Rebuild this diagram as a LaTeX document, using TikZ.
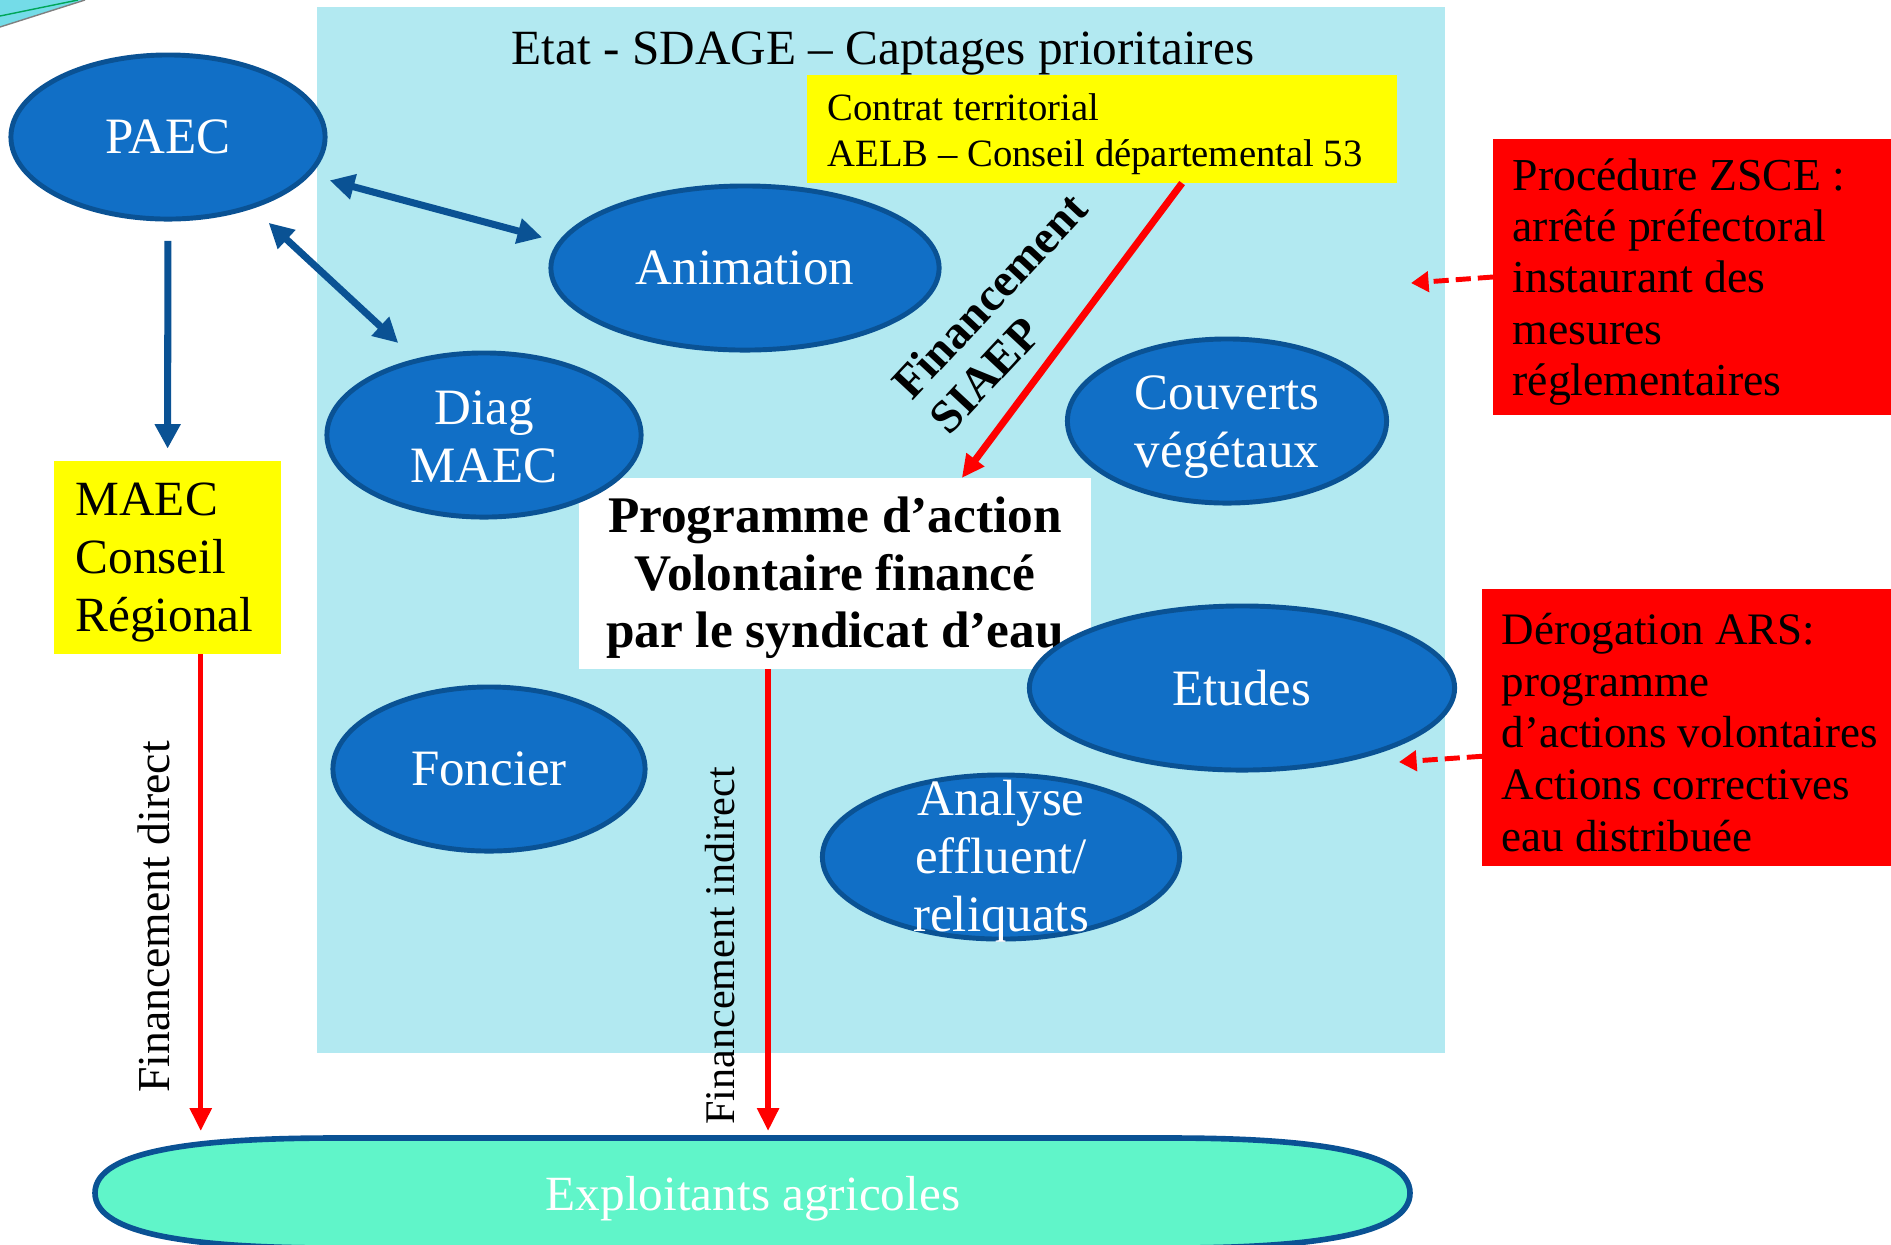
\documentclass[tikz,border=0pt]{standalone}
\usepackage{fontspec}
\setmainfont{Liberation Serif}
\usetikzlibrary{shapes.geometric,arrows.meta}
\definecolor{ciel}{HTML}{B2E9F1}
\definecolor{deco}{HTML}{74DCE8}
\definecolor{bleubulle}{HTML}{116FC6}
\definecolor{bleubord}{HTML}{0A5294}
\definecolor{menthe}{HTML}{60F5C9}
\definecolor{jaune}{HTML}{FFFF00}
\definecolor{rouge}{HTML}{FF0000}
\begin{document}
\begin{tikzpicture}[x=0.01cm,y=-0.01cm,
    bulle/.style={ellipse,draw=bleubord,line width=1.4pt,fill=bleubulle,minimum height=1.64cm,inner sep=0pt},
    bulletexte/.style={text=white,align=center,font=\fontsize{14.5}{16.5}\selectfont},
    boite/.style={inner sep=0pt,outer sep=0pt},
    texte boite/.style={anchor=west,align=left,inner sep=0pt},
    double fleche/.style={draw=bleubord,line width=2pt,{Triangle[length=7pt,width=7pt]}-{Triangle[length=7pt,width=7pt]}},
    fleche bleue/.style={draw=bleubord,line width=2pt,-{Triangle[length=7pt,width=7pt]}},
    fleche rouge/.style={draw=rouge,line width=1.5pt,-{Triangle[length=6.5pt,width=6pt]}},
    tirets/.style={draw=rouge,line width=1.4pt,dash pattern=on 4.3pt off 2pt,-{Triangle[length=5pt,width=5.7pt]}}]
  \useasboundingbox (0,0) rectangle (1891,1244);
  % fond
  \fill[ciel] (317,7) rectangle (1445,1053);
  \fill[deco] (0,0) -- (85,0) -- (0,27) -- cycle;
  \draw[teal!70!green,line width=0.4pt] (0,16) -- (78,0);
  \draw[gray,line width=0.4pt] (0,27) -- (85,0);
  \node[font=\fontsize{14}{16}\selectfont] (titre) at (883,53) {Etat - SDAGE – Captages prioritaires};
  % encadres
  \node[boite,fill=jaune,minimum width=5.9cm,minimum height=1.08cm] (contrat) at (1102,129) {};
  \node[texte boite,font=\fontsize{11}{13.1}\selectfont] (contrat-texte) at ([shift={(20,5)}]contrat.west)
    {Contrat territorial\\AELB – Conseil départemental 53};
  \node[boite,fill=white,minimum width=5.12cm,minimum height=1.91cm] (prog) at (835,573.5) {};
  \node[align=center,inner sep=0pt,font=\bfseries\fontsize{14.6}{16.3}\selectfont] (prog-texte) at ([yshift=-1.2pt]prog)
    {Programme d’action\\Volontaire financé\\par le syndicat d’eau};
  \node[boite,fill=jaune,minimum width=2.27cm,minimum height=1.93cm] (maec) at (167.5,557.5) {};
  \node[texte boite,font=\fontsize{14}{16.5}\selectfont] (maec-texte) at ([shift={(21,5)}]maec.west)
    {MAEC\\Conseil\\Régional};
  \node[boite,fill=rouge,minimum width=3.98cm,minimum height=2.76cm] (zsce) at (1692,277) {};
  \node[texte boite,font=\fontsize{13}{14.6}\selectfont] (zsce-texte) at ([shift={(19,5)}]zsce.west)
    {Procédure ZSCE :\\arrêté préfectoral\\instaurant des\\mesures\\réglementaires};
  \node[boite,fill=rouge,minimum width=4.09cm,minimum height=2.77cm] (ars) at (1686.5,727.5) {};
  \node[texte boite,font=\fontsize{12.8}{14.7}\selectfont] (ars-texte) at ([shift={(19,5)}]ars.west)
    {Dérogation ARS:\\programme\\d’actions volontaires\\Actions correctives\\eau distribuée};
  % bulles
  \node[bulle,minimum width=3.14cm,label={[bulletexte]center:PAEC}] (paec) at (168,137) {};
  \node[bulle,minimum width=3.88cm,label={[bulletexte]center:Animation}] (anim) at (745,268) {};
  \node[bulle,minimum width=3.14cm,label={[bulletexte,yshift=-0.5pt]center:{Diag\\MAEC}}] (diag) at (484,435) {};
  \node[bulle,minimum width=3.19cm,label={[bulletexte,yshift=-1.6pt]center:{Couverts\\végétaux}}] (couverts) at (1227,421) {};
  \node[bulle,minimum width=4.25cm,label={[bulletexte]center:Etudes}] (etudes) at (1242,688) {};
  \node[bulle,minimum width=3.12cm,label={[bulletexte]center:Foncier}] (foncier) at (489,769) {};
  \node[bulle,minimum width=3.57cm,label={[bulletexte,yshift=-1.3pt,font=\fontsize{14.5}{16.5}\selectfont]center:{Analyse\\effluent/\\reliquats}}] (analyse) at (1001,857) {};
  % exploitants
  \draw[bleubord,line width=1.6pt,fill=menthe] (95,1193) .. controls (95,1150) and (200,1138) .. (335,1138) -- (1170,1138)
    .. controls (1305,1138) and (1410,1150) .. (1410,1193) .. controls (1410,1236) and (1305,1248) .. (1170,1248)
    -- (335,1248) .. controls (200,1248) and (95,1236) .. (95,1193) -- cycle;
  \node[boite,minimum width=13.15cm,minimum height=1.10cm,
    label={[text=white,font=\fontsize{14}{16}\selectfont,yshift=-1.7pt]center:Exploitants agricoles}] (explo) at (753,1193) {};
  % fleches
  \draw[double fleche,shorten <=5.7pt,shorten >=4.7pt] (paec.-15) -- (anim.172);
  \draw[double fleche,shorten <=6pt,shorten >=6.6pt] (paec.-40) -- (diag.132);
  \draw[fleche bleue,shorten <=5.5pt,shorten >=3.5pt] (paec) -- (maec);
  \draw[fleche rouge,line width=2pt] (contrat.-34) -- (prog.37);
  \draw[fleche rouge,shorten >=2pt] (maec.-71) -- (maec.-71 |- explo.north);
  \draw[fleche rouge,shorten >=2pt] (prog.-125) -- (prog.-125 |- explo.north);
  \coordinate (zsce-fin) at (1411,283);
  \draw[tirets] (zsce.west) -- (zsce-fin);
  \coordinate (ars-fin) at (1399,762);
  \draw[tirets] (ars.-172) -- (ars-fin);
  % etiquettes
  \node[rotate=47,align=left,font=\bfseries\fontsize{13.3}{14.5}\selectfont] (siaep) at (1008,313) {Financement\\SIAEP};
  \node[rotate=90,font=\fontsize{13}{15}\selectfont] (direct) at (154,917) {Financement direct};
  \node[rotate=90,font=\fontsize{12}{14}\selectfont] (indirect) at (720,946) {Financement indirect};
\end{tikzpicture}
\end{document}
